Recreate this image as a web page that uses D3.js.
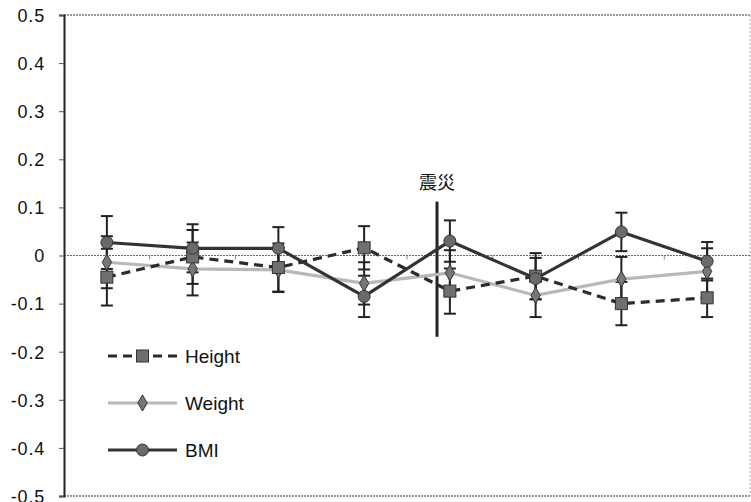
<!DOCTYPE html>
<html>
<head>
<meta charset="utf-8">
<script src="https://cdn.jsdelivr.net/npm/d3@7"></script>
<style>
  body { margin: 0; background: #fff; }
  svg text { font-family: "Liberation Sans", Arial, sans-serif; fill: #111; }
</style>
</head>
<body>
<div id="chart"></div>
<script>
// data
var periods = ["t1", "t2", "t3", "t4", "t5", "t6", "t7", "t8"];
var yTicks = [0.5, 0.4, 0.3, 0.2, 0.1, 0, -0.1, -0.2, -0.3, -0.4, -0.5];

var heightVals = [-0.045, -0.003, -0.025, 0.016, -0.074, -0.043, -0.100, -0.088];
var heightErr  = [0.059, 0.056, 0.050, 0.045, 0.047, 0.048, 0.045, 0.040];
var weightVals = [-0.014, -0.028, -0.030, -0.058, -0.036, -0.083, -0.049, -0.033];
var weightErr  = [0.054, 0.055, 0.046, 0.044, 0.047, 0.045, 0.046, 0.048];
var bmiVals    = [0.027, 0.015, 0.015, -0.085, 0.030, -0.048, 0.049, -0.012];
var bmiErr     = [0.055, 0.050, 0.044, 0.043, 0.043, 0.043, 0.040, 0.040];

var eventLabel = "震災";
var eventPos = 3.85;          // in period units, between t4 and t5
var eventRange = [0.112, -0.169];

var series = [
  {name: "Height", vals: heightVals, err: heightErr, color: "#2b2b2b", dash: "9,6", marker: "square"},
  {name: "Weight", vals: weightVals, err: weightErr, color: "#b8b8b8", dash: null, marker: "diamond"},
  {name: "BMI",    vals: bmiVals,    err: bmiErr,    color: "#333333", dash: null, marker: "circle"}
];

var margin = {top: 15, right: 1, bottom: 6, left: 64},
    width = 751 - margin.left - margin.right,
    height = 502 - margin.top - margin.bottom;

var svg = d3.select("#chart").append("svg")
    .attr("width", 751)
    .attr("height", 502)
  .append("g")
    .attr("transform", "translate(" + margin.left + "," + margin.top + ")");

var x = d3.scaleBand().domain(periods).range([0, width]).padding(0);
var y = d3.scaleLinear().domain([-0.5, 0.5]).range([height, 0]);
var cx = function(i) { return x(periods[i]) + x.bandwidth() / 2; };

// frame: dotted top / right / bottom
svg.append("line").attr("x1", 0).attr("x2", width).attr("y1", 0).attr("y2", 0)
   .attr("stroke", "#777").attr("stroke-width", 1.5).attr("stroke-dasharray", "2,1");
svg.append("line").attr("x1", 0).attr("x2", width).attr("y1", height).attr("y2", height)
   .attr("stroke", "#777").attr("stroke-width", 1.5).attr("stroke-dasharray", "2,1");
svg.append("line").attr("x1", width).attr("x2", width).attr("y1", 0).attr("y2", height)
   .attr("stroke", "#aaa").attr("stroke-width", 1).attr("stroke-dasharray", "2,2");

// zero line with small period ticks
svg.append("line").attr("x1", 0).attr("x2", width).attr("y1", y(0)).attr("y2", y(0))
   .attr("stroke", "#666").attr("stroke-width", 1.2).attr("stroke-dasharray", "2,1");
var xAxis = d3.axisBottom(x).tickSize(4).tickFormat("");
var gx = svg.append("g").attr("transform", "translate(" + (-x.bandwidth() / 2) + "," + y(0) + ")").call(xAxis);
gx.select(".domain").remove();
gx.selectAll(".tick").filter(function(d, i) { return i === 0; }).remove();
gx.selectAll(".tick line").attr("stroke", "#888");

// y axis (plain hyphen for negatives, as in the original)
var yAxis = d3.axisLeft(y).tickValues(yTicks).tickSize(5).tickPadding(14)
    .tickFormat(function(d) { return d === 0 ? "0" : d.toFixed(1); });
var gy = svg.append("g").call(yAxis);
gy.select(".domain").attr("stroke", "#222").attr("stroke-width", 2);
gy.selectAll(".tick line").attr("stroke", "#555");
gy.selectAll(".tick text").style("font-size", "18px").attr("dy", "0.35em")
   .attr("letter-spacing", "0.8px");

// earthquake marker
var ex = x(periods[0]) + (eventPos + 0.5) * x.bandwidth();
svg.append("line").attr("x1", ex).attr("x2", ex)
   .attr("y1", y(eventRange[0])).attr("y2", y(eventRange[1]))
   .attr("stroke", "#222").attr("stroke-width", 3);
svg.append("text").attr("x", ex).attr("y", y(eventRange[0]) - 13)
   .attr("text-anchor", "middle").style("font-size", "18px")
   .style("font-family", "'Noto Sans CJK JP', sans-serif").text(eventLabel);

// error bars
var cap = 6;
series.forEach(function(s) {
  var g = svg.append("g");
  s.vals.forEach(function(v, i) {
    var hi = y(v + s.err[i]), lo = y(v - s.err[i]), px = cx(i);
    g.append("line").attr("x1", px).attr("x2", px).attr("y1", hi).attr("y2", lo)
     .attr("stroke", "#222").attr("stroke-width", 2);
    [hi, lo].forEach(function(yy) {
      g.append("line").attr("x1", px - cap).attr("x2", px + cap).attr("y1", yy).attr("y2", yy)
       .attr("stroke", "#222").attr("stroke-width", 2);
    });
  });
});

// lines
var line = d3.line().x(function(d, i) { return cx(i); }).y(function(d) { return y(d); });
var order = [1, 0, 2];
order.forEach(function(k) {
  var s = series[k];
  svg.append("path").datum(s.vals)
     .attr("d", line).attr("fill", "none")
     .attr("stroke", s.color).attr("stroke-width", 3.2)
     .attr("stroke-dasharray", s.dash);
});

// markers
function marker(g, type, px, py) {
  if (type === "square") {
    g.append("rect").attr("x", px - 6).attr("y", py - 6).attr("width", 12).attr("height", 12)
     .attr("fill", "#6f6f6f").attr("stroke", "#333").attr("stroke-width", 1);
  } else if (type === "diamond") {
    g.append("path").attr("d", d3.symbol().type(d3.symbolDiamond).size(75)())
     .attr("transform", "translate(" + px + "," + py + ")")
     .attr("fill", "#777").attr("stroke", "#333").attr("stroke-width", 1);
  } else {
    g.append("circle").attr("cx", px).attr("cy", py).attr("r", 6)
     .attr("fill", "#6a6a6a").attr("stroke", "#333").attr("stroke-width", 1);
  }
}
order.forEach(function(k) {
  var s = series[k];
  var g = svg.append("g");
  s.vals.forEach(function(v, i) { marker(g, s.marker, cx(i), y(v)); });
});

// legend
var legendY = [356, 403, 450];
series.forEach(function(s, i) {
  var ly = legendY[i] - margin.top, lx0 = 108 - margin.left, lx1 = 177 - margin.left;
  svg.append("line").attr("x1", lx0).attr("x2", lx1).attr("y1", ly).attr("y2", ly)
     .attr("stroke", s.color).attr("stroke-width", 3.2).attr("stroke-dasharray", s.dash);
  marker(svg, s.marker, (lx0 + lx1) / 2, ly);
  svg.append("text").attr("x", 185 - margin.left).attr("y", ly).attr("dy", "0.36em")
     .style("font-size", "19px").text(s.name);
});
</script>
</body>
</html>
